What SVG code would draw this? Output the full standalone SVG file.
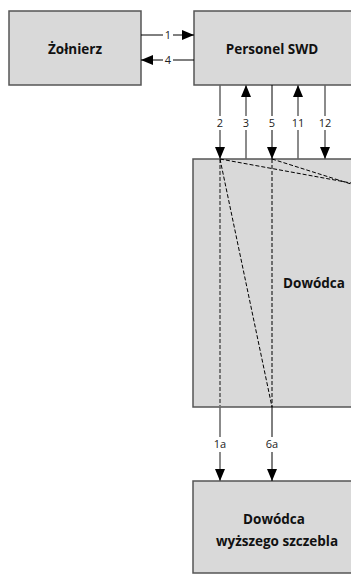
<svg xmlns="http://www.w3.org/2000/svg" width="351" height="577" viewBox="0 0 351 577">
<defs>
<marker id="ah" viewBox="0 0 12 10" refX="12" refY="5" markerWidth="12" markerHeight="10" markerUnits="userSpaceOnUse" orient="auto">
<path d="M0,0 L12,5 L0,10 Z" fill="#000"/>
</marker>
<style>
.box{fill:#d9d9d9;stroke:#555;stroke-width:1.5}
.t{font-family:"Open Sans","Liberation Sans",sans-serif;font-weight:bold;font-size:13.5px;fill:#111;text-anchor:middle}
.l{font-family:"Open Sans","Liberation Sans",sans-serif;font-size:11px;fill:#222;text-anchor:middle}
.g{stroke:#666;stroke-width:1.5;fill:none}
.k{stroke:#000;stroke-width:1;fill:none}
.d{stroke:#000;stroke-width:1;stroke-dasharray:4,2;fill:none}
.dg{stroke:#777;stroke-width:2;stroke-dasharray:4,2;fill:none}
</style>
</defs>
<g id="zolnierz"><rect class="box" x="9" y="11" width="132" height="74"/><text class="t" x="75" y="54">Żołnierz</text></g>
<g id="personel"><rect class="box" x="194" y="11" width="170" height="74"/><text class="t" x="272" y="54">Personel SWD</text></g>
<g id="dowodca"><rect class="box" x="193" y="159" width="170" height="248"/><text class="t" x="314" y="288">Dowódca</text></g>
<g id="wyzszy"><rect class="box" x="193" y="481" width="170" height="92"/><text class="t" x="274" y="524">Dowódca</text><text class="t" x="277" y="546">wyższego szczebla</text></g>
<g id="connectors">
<path class="k" d="M141,35 H163 M173,35 H194" marker-end="url(#ah)"/>
<path class="k" d="M194,60 H173 M163,60 H141" marker-end="url(#ah)"/>
<text class="l" x="168" y="39">1</text>
<text class="l" x="168" y="64">4</text>
<path class="g" d="M220,85 V116 M220,130 V159" marker-end="url(#ah)"/>
<path class="g" d="M246,159 V130 M246,116 V85" marker-end="url(#ah)"/>
<path class="k" d="M272,85 V116 M272,130 V159" marker-end="url(#ah)"/>
<path class="g" d="M298,159 V130 M298,116 V85" marker-end="url(#ah)"/>
<path class="g" d="M325,85 V116 M325,130 V159" marker-end="url(#ah)"/>
<text class="l" x="220" y="127">2</text>
<text class="l" x="246" y="127">3</text>
<text class="l" x="272" y="127">5</text>
<text class="l" x="298" y="127">11</text>
<text class="l" x="325" y="127">12</text>
<path class="dg" d="M220,159 V407"/>
<path class="d" d="M220,159 L272,407"/>
<path class="d" d="M272,159 V407"/>
<path class="d" d="M220,159 L351,183"/>
<path class="d" d="M272,159 L351,184"/>
<path class="g" d="M220,407 V437 M220,452 V481" marker-end="url(#ah)"/>
<path class="k" d="M272,407 V437 M272,452 V481" marker-end="url(#ah)"/>
<text class="l" x="220" y="448">1a</text>
<text class="l" x="272" y="448">6a</text>
</g>
</svg>
